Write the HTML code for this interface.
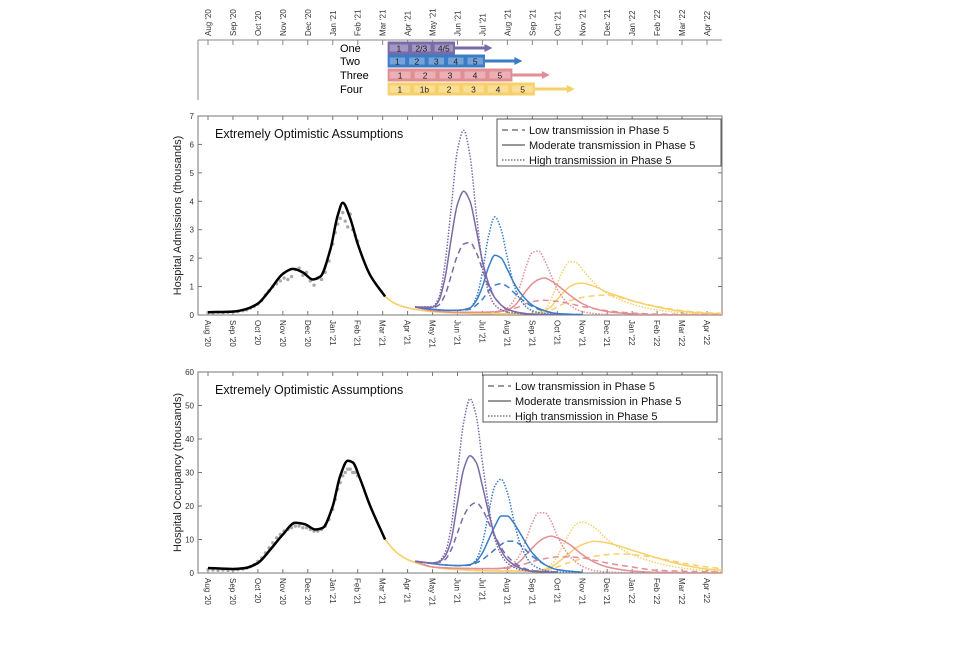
<!DOCTYPE html>
<html><head><meta charset="utf-8"><style>
body{margin:0;background:#fff;width:960px;height:640px;overflow:hidden;font-family:"Liberation Sans",sans-serif}
svg text{font-family:"Liberation Sans",sans-serif}
</style></head><body>
<svg id="c" width="960" height="640" xmlns="http://www.w3.org/2000/svg">
<defs><clipPath id="clipA"><rect x="198" y="116" width="524" height="199"/></clipPath><clipPath id="clipB"><rect x="198" y="372" width="524" height="201"/></clipPath></defs>
</svg>
<script>
const monthLabels=["Aug '20","Sep '20","Oct '20","Nov '20","Dec '20","Jan '21","Feb '21","Mar '21","Apr '21","May '21","Jun '21","Jul '21","Aug '21","Sep '21","Oct '21","Nov '21","Dec '21","Jan '22","Feb '22","Mar '22","Apr '22"];
const admTicks=[0,1,2,3,4,5,6,7];
const occTicks=[0,10,20,30,40,50,60];
const legendLabels=["Low transmission in Phase 5","Moderate transmission in Phase 5","High transmission in Phase 5"];
const scenNames=["One","Two","Three","Four"];
const scenStart=[7.2,7.2,7.2,7.2];
const scenEnd=[9.9,11.1,12.2,13.1];
const scenArrow=[11.4,12.6,13.7,14.7];
const scenPhases=[["1","2/3","4/5"],["1","2","3","4","5"],["1","2","3","4","5"],["1","1b","2","3","4","5"]];
const blackT=[0,1,1.5,2,2.5,3,3.4,3.8,4.2,4.5,4.9,5.2,5.4,5.7,6,6.5,7.1];
const blackAdm=[0.1,0.12,0.2,0.4,0.9,1.45,1.62,1.5,1.25,1.35,2.3,3.5,3.95,3.4,2.5,1.4,0.65];
const blackOccT=[0,1,1.5,2,2.5,3,3.5,3.9,4.3,4.6,5,5.3,5.6,5.8,6.1,6.5,7.1];
const blackOcc=[1.5,1.2,1.5,3,7,11.5,15,14.5,13,13.5,20,29,33.5,33,28,20,10];
const grayT=[0,0.2,0.4,0.6,0.8,1.0,1.2,1.4,1.55,1.7,1.85,2.0,2.15,2.3,2.45,2.6,2.75,2.9,3.05,3.2,3.35,3.5,3.65,3.8,3.95,4.1,4.25,4.4,4.55,4.7,4.85,5.0,5.1,5.2,5.3,5.4,5.5,5.6,5.7,5.8,5.9,6.0];
const grayAdm=[0.09,0.08,0.1,0.09,0.1,0.11,0.12,0.15,0.18,0.24,0.3,0.38,0.5,0.7,0.85,1.0,1.1,1.2,1.3,1.25,1.35,1.6,1.65,1.4,1.5,1.2,1.05,1.3,1.25,1.5,1.9,2.5,2.9,3.2,3.4,3.6,3.3,3.1,3.55,3.0,2.8,2.6];
const grayOcc=[1.0,0.9,0.8,0.9,0.8,0.9,1.0,1.2,1.5,1.9,2.5,3.5,4.5,6,7.5,9,10.5,11.5,12.5,13,13.5,14,14,13.5,13.5,13,12.5,12.5,13,14,16,19,22,25,27,29,30,31,31,30,30,29];
const oneT=[8.3,9,9.25,9.5,9.75,10,10.25,10.5,10.75,11,11.25,11.5,12,12.5,13,14];
const oneAdmHigh=[0.28,0.3,0.6,1.8,3.8,5.8,6.5,5.6,3.6,1.8,0.8,0.35,0.1,0.05,0.02,0];
const oneAdmMod=[0.28,0.27,0.5,1.3,2.7,3.9,4.35,4.0,3.0,1.9,1.1,0.6,0.2,0.08,0.03,0.01];
const oneAdmLow=[0.28,0.25,0.35,0.7,1.4,2.1,2.5,2.55,2.2,1.6,1.0,0.6,0.2,0.08,0.03,0.01];
const oneOccHigh=[3.5,3,3.5,6,14,30,45,52,47,33,20,10,3,1,0.5,0.2];
const oneOccMod=[3.5,3,3.3,5,10,21,31,35,33,26,18,11,4,1.5,0.5,0.2];
const oneOccLow=[3.5,3,3.2,4,7,12,17,20,21,19,15,11,5,2,0.7,0.3];
const twoT=[8.3,9,9.5,10,10.5,10.75,11,11.25,11.5,11.75,12,12.25,12.5,13,13.5,14,15];
const twoAdmHigh=[0.28,0.2,0.17,0.17,0.25,0.6,1.5,2.8,3.45,3.0,2.0,1.1,0.55,0.15,0.05,0.02,0];
const twoAdmMod=[0.28,0.2,0.17,0.17,0.25,0.5,1.0,1.7,2.1,2.0,1.6,1.15,0.8,0.35,0.15,0.05,0.01];
const twoAdmLow=[0.28,0.2,0.17,0.17,0.2,0.35,0.55,0.85,1.05,1.1,1.0,0.8,0.6,0.3,0.13,0.05,0.01];
const twoOccHigh=[3.5,2.8,2.4,2.2,2.5,4,9,18,26,28,24,16,9,2.5,0.8,0.3,0.1];
const twoOccMod=[3.5,2.8,2.4,2.2,2.5,3.5,6,10,14,17,17,15,12,6,2.5,1,0.2];
const twoOccLow=[3.5,2.8,2.4,2.2,2.3,3,4,5.5,7,8.5,9.5,9.5,8.5,5,2.5,1,0.2];
const threeT=[8.3,9,10,11,11.5,12,12.25,12.5,12.75,13,13.25,13.5,13.75,14,14.5,15,15.5,16,17,18,21];
const threeAdmHigh=[0.28,0.15,0.1,0.1,0.12,0.25,0.5,1.0,1.7,2.2,2.25,1.9,1.4,0.9,0.35,0.12,0.05,0.02,0,0,0];
const threeAdmMod=[0.28,0.15,0.1,0.1,0.11,0.18,0.3,0.55,0.85,1.1,1.25,1.3,1.2,1.05,0.7,0.4,0.22,0.12,0.04,0.01,0];
const threeAdmLow=[0.28,0.15,0.1,0.1,0.1,0.15,0.22,0.3,0.4,0.47,0.5,0.52,0.5,0.48,0.4,0.3,0.22,0.15,0.07,0.03,0.01];
const threeOccHigh=[3.5,1.8,1.4,1.3,1.3,1.8,3,5.5,10,15,18,18,15.5,11,5,2,0.7,0.3,0.1,0,0];
const threeOccMod=[3.5,1.8,1.4,1.3,1.3,1.6,2.2,3.5,5.5,7.5,9.3,10.5,11,10.5,8.5,5.5,3.2,1.8,0.6,0.2,0];
const threeOccLow=[3.5,1.8,1.4,1.3,1.3,1.4,1.7,2.2,2.8,3.4,3.9,4.3,4.6,4.8,4.8,4.5,3.8,3,1.8,0.8,0.2];
const fourT=[7.1,7.5,8,9,10,11,12,13,13.5,13.75,14,14.25,14.5,14.75,15,15.5,16,16.5,17,18,19,20,21];
const fourAdmHigh=[0.65,0.4,0.25,0.12,0.07,0.05,0.04,0.05,0.2,0.55,1.1,1.6,1.88,1.85,1.6,1.1,0.75,0.55,0.38,0.18,0.08,0.04,0.02];
const fourAdmMod=[0.65,0.4,0.25,0.12,0.07,0.05,0.04,0.05,0.15,0.3,0.55,0.8,1.0,1.1,1.12,1.0,0.8,0.65,0.5,0.28,0.13,0.06,0.03];
const fourAdmLow=[0.65,0.4,0.25,0.12,0.07,0.05,0.04,0.05,0.1,0.17,0.28,0.4,0.5,0.57,0.62,0.68,0.7,0.62,0.5,0.3,0.15,0.08,0.05];
const fourOccHigh=[10,6.5,4,1.8,1,0.7,0.6,0.6,1.2,2.5,5,8.5,12,14.5,15.2,13.5,10,7.5,5.5,3,1.5,0.7,0.3];
const fourOccMod=[10,6.5,4,1.8,1,0.7,0.6,0.6,1,1.8,3,4.5,6,7.5,8.5,9.5,9,8,6.8,4.5,2.5,1.2,0.6];
const fourOccLow=[10,6.5,4,1.8,1,0.7,0.6,0.6,0.8,1.2,1.8,2.5,3.2,3.8,4.3,5,5.5,5.7,5.5,4.5,3,1.8,1];

const colors=["#7b6aa8","#3a7cc6","#e28e95","#f7d06a"];
const NS="http://www.w3.org/2000/svg";
const svg=document.getElementById('c');
function el(tag,attrs,parent,text){const e=document.createElementNS(NS,tag);for(const k in attrs)e.setAttribute(k,attrs[k]);if(text!==undefined)e.textContent=text;(parent||svg).appendChild(e);return e;}
const X0=208,DX=24.95,PL=198,PR=722;
function xs(m){return X0+m*DX;}
function mono(pts){const n=pts.length,dx=[],s=[],m=[];
 for(let i=0;i<n-1;i++){dx[i]=pts[i+1][0]-pts[i][0];s[i]=(pts[i+1][1]-pts[i][1])/dx[i];}
 m[0]=s[0];m[n-1]=s[n-2];
 for(let i=1;i<n-1;i++){m[i]=(s[i-1]*s[i]<=0)?0:3*(dx[i-1]+dx[i])/((2*dx[i]+dx[i-1])/s[i-1]+(dx[i]+2*dx[i-1])/s[i]);}
 let d="M"+pts[0][0].toFixed(1)+","+pts[0][1].toFixed(1);
 for(let i=0;i<n-1;i++){const h=dx[i]/3;
  d+="C"+(pts[i][0]+h).toFixed(1)+","+(pts[i][1]+m[i]*h).toFixed(1)+" "+(pts[i+1][0]-h).toFixed(1)+","+(pts[i+1][1]-m[i+1]*h).toFixed(1)+" "+pts[i+1][0].toFixed(1)+","+pts[i+1][1].toFixed(1);}
 return d;}

const tl=el('g',{});


el('line',{x1:PL,y1:40,x2:PR,y2:40,stroke:'#888','stroke-width':1},tl);
el('line',{x1:PL,y1:40,x2:PL,y2:100,stroke:'#888','stroke-width':1},tl);
monthLabels.forEach((l,i)=>{const x=xs(i);
 el('line',{x1:x,y1:40,x2:x,y2:45,stroke:'#888'},tl);
 const t=el('text',{x:0,y:0,transform:`translate(${x+3},36) rotate(-90)`,'font-size':8,fill:'#333'},tl,l);
 });
const rowY=[48,61,75,89];
scenNames.forEach((n,i)=>{const y=rowY[i],x1=xs(scenStart[i]),x2=xs(scenEnd[i]),xa=xs(scenArrow[i]);
 const g=el('g',{},tl);
 
 el('text',{x:340,y:y+4,'font-size':11,fill:'#000'},g,n);
 el('line',{x1:x2,y1:y,x2:xa-6,y2:y,stroke:colors[i],'stroke-width':3},g);
 el('polygon',{points:`${xa},${y} ${xa-8},${y-4} ${xa-8},${y+4}`,fill:colors[i]},g);
 el('rect',{x:x1,y:y-6.5,width:x2-x1,height:13,fill:colors[i]},g);
 const ph=scenPhases[i],w=(x2-x1)/ph.length;
 ph.forEach((p,j)=>{el('rect',{x:x1+j*w+2,y:y-3.5,width:w-4,height:7,fill:'#fff',opacity:0.3},g);
  el('text',{x:x1+j*w+w/2,y:y+3.5,'font-size':8.5,'text-anchor':'middle',fill:'#222'},g,p);});
});

function panel(o){
 const g=el('g',{});
 
 const ys=v=>o.bot-(v/o.max)*(o.bot-o.top);
 el('rect',{x:PL,y:o.top,width:PR-PL,height:o.bot-o.top,fill:'none',stroke:'#777','stroke-width':1},g);
 o.ticks.forEach(v=>{const y=ys(v);el('line',{x1:PL,y1:y,x2:PL+4,y2:y,stroke:'#777'},g);el('line',{x1:PR,y1:y,x2:PR-4,y2:y,stroke:'#777'},g);
  const t=el('text',{x:PL-4,y:y+3,'font-size':8,'text-anchor':'end',fill:'#333'},g,v);
  });
 monthLabels.forEach((l,i)=>{const x=xs(i);el('line',{x1:x,y1:o.bot,x2:x,y2:o.bot-4,stroke:'#777'},g);el('line',{x1:x,y1:o.top,x2:x,y2:o.top+4,stroke:'#777'},g);
  const t=el('text',{x:0,y:0,transform:`translate(${x-3},${o.bot+5}) rotate(90)`,'font-size':8,fill:'#333'},g,l);
  });
 const yl=el('text',{x:0,y:0,transform:`translate(181,${(o.top+o.bot)/2}) rotate(-90)`,'font-size':11,'text-anchor':'middle',fill:'#222'},g,o.ylabel);
 
 const tt=el('text',{x:215,y:o.top+22,'font-size':12.5,fill:'#111'},g,'Extremely Optimistic Assumptions');
 
 const pg=el('g',{'clip-path':`url(#${o.clip})`},g);
 o.grayV.forEach((v,i)=>{const c=el('circle',{cx:xs(grayT[i]),cy:ys(v),r:1.7,fill:'#aaa'},pg);
  });
 const dashes={low:'6,4',mod:'',high:'1.5,1.5'};
 o.series.forEach(s=>{const p=el('path',{d:mono(s.t.map((t,i)=>[xs(t),ys(s.v[i])])),fill:'none',stroke:s.c,'stroke-width':s.w||1.5,'stroke-dasharray':dashes[s.k]||''},pg);
  });
 const bp=el('path',{d:mono(o.blackT.map((t,i)=>[xs(t),ys(o.blackV[i])])),fill:'none',stroke:'#000','stroke-width':2.5},pg);
 
 const lg=el('g',{},g);
 el('rect',{x:o.lx,y:o.top+3,width:o.lw,height:47,fill:'#fff',stroke:'#555'},lg);
 ['low','mod','high'].forEach((k,i)=>{const y=o.top+14+i*15;
  const e=el('g',{},lg);
  el('line',{x1:o.lx+5,y1:y,x2:o.lx+28,y2:y,stroke:'#777','stroke-width':1.5,'stroke-dasharray':dashes[k]},e);
  el('text',{x:o.lx+32,y:y+4,'font-size':11,fill:'#111'},e,legendLabels[i]);});
}
function ser(n,t,low,mod,high,c){return [{n:n+'-low',t,v:low,c,k:'low'},{n:n+'-moderate',t,v:mod,c,k:'mod'},{n:n+'-high',t,v:high,c,k:'high'}];}
panel({name:'admissions-panel',clip:'clipA',top:116,bot:315,max:7,ticks:admTicks,ylabel:'Hospital Admissions (thousands)',grayV:grayAdm,blackT,blackV:blackAdm,lx:497,lw:224,
 series:[...ser('scenario-four',fourT,fourAdmLow,fourAdmMod,fourAdmHigh,colors[3]),...ser('scenario-three',threeT,threeAdmLow,threeAdmMod,threeAdmHigh,colors[2]),...ser('scenario-two',twoT,twoAdmLow,twoAdmMod,twoAdmHigh,colors[1]),...ser('scenario-one',oneT,oneAdmLow,oneAdmMod,oneAdmHigh,colors[0])]});
panel({name:'occupancy-panel',clip:'clipB',top:372,bot:573,max:60,ticks:occTicks,ylabel:'Hospital Occupancy (thousands)',grayV:grayOcc,blackT:blackOccT,blackV:blackOcc,lx:483,lw:234,
 series:[...ser('scenario-four',fourT,fourOccLow,fourOccMod,fourOccHigh,colors[3]),...ser('scenario-three',threeT,threeOccLow,threeOccMod,threeOccHigh,colors[2]),...ser('scenario-two',twoT,twoOccLow,twoOccMod,twoOccHigh,colors[1]),...ser('scenario-one',oneT,oneOccLow,oneOccMod,oneOccHigh,colors[0])]});
</script>
</body></html>
